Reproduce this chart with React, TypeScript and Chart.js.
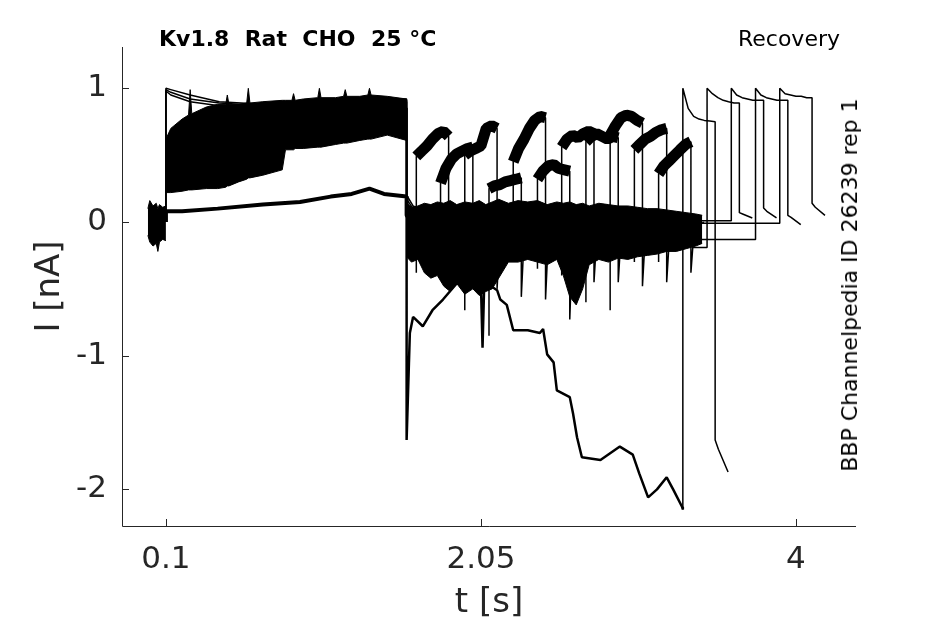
import { useEffect, useRef } from "react";
import Chart from "chart.js/auto";

const FONT = "'DejaVu Sans', sans-serif";
const AXIS = "#262626";

const xTicks = [0.1, 2.05, 4];
const yTicks = [1, 0, -1, -2];

// holding noise before the first pulse
const preT = [-0.012, 0.0, 0.02, 0.04, 0.05, 0.06, 0.08, 0.1];
const preHi = [0.1, 0.16, 0.12, 0.14, 0.1, 0.13, 0.11, 0.12];
const preLo = [-0.1, -0.15, -0.18, -0.16, -0.22, -0.15, -0.13, -0.14];

// dense envelope of the noisy sweeps during the first pulse
const p1T = [0.1, 0.13, 0.2, 0.24, 0.25, 0.26, 0.35, 0.42, 0.47, 0.48, 0.49, 0.55, 0.6, 0.61, 0.62, 0.7, 0.82, 0.84, 0.88, 0.89, 0.9, 0.95, 1.04, 1.05, 1.06, 1.15, 1.2, 1.21, 1.22, 1.3, 1.35, 1.36, 1.37, 1.47, 1.59];
const p1Hi = [0.62, 0.7, 0.77, 0.8, 0.99, 0.81, 0.86, 0.88, 0.88, 0.95, 0.88, 0.88, 0.89, 1.0, 0.89, 0.9, 0.91, 0.91, 0.91, 0.96, 0.91, 0.92, 0.93, 1.0, 0.93, 0.93, 0.94, 0.99, 0.94, 0.94, 0.95, 1.0, 0.95, 0.94, 0.92];
const p1Lo = [0.22, 0.22, 0.23, 0.24, 0.24, 0.24, 0.25, 0.25, 0.26, 0.27, 0.27, 0.3, 0.32, 0.33, 0.33, 0.35, 0.39, 0.54, 0.54, 0.54, 0.55, 0.55, 0.56, 0.56, 0.56, 0.58, 0.59, 0.59, 0.59, 0.61, 0.62, 0.62, 0.62, 0.65, 0.61];

// dense envelope around zero during recovery
const recT = [1.59, 1.62, 1.66, 1.7, 1.74, 1.78, 1.82, 1.86, 1.9, 1.95, 2.0, 2.04, 2.08, 2.12, 2.16, 2.22, 2.28, 2.34, 2.4, 2.46, 2.52, 2.56, 2.6, 2.64, 2.68, 2.72, 2.78, 2.84, 2.9, 2.96, 3.02, 3.08, 3.14, 3.2, 3.26, 3.32, 3.38, 3.42];
const recHi = [0.14, 0.11, 0.12, 0.14, 0.13, 0.15, 0.14, 0.16, 0.13, 0.15, 0.14, 0.16, 0.13, 0.15, 0.17, 0.14, 0.16, 0.15, 0.16, 0.13, 0.15, 0.14, 0.15, 0.13, 0.14, 0.12, 0.14, 0.13, 0.12, 0.12, 0.11, 0.1, 0.1, 0.09, 0.08, 0.07, 0.06, 0.05];
const recLo = [-0.26, -0.3, -0.28, -0.38, -0.42, -0.4, -0.48, -0.52, -0.46, -0.54, -0.5, -0.55, -0.52, -0.5, -0.42, -0.3, -0.3, -0.28, -0.3, -0.32, -0.28, -0.4, -0.56, -0.62, -0.5, -0.32, -0.28, -0.3, -0.27, -0.28, -0.26, -0.25, -0.24, -0.22, -0.22, -0.2, -0.18, -0.16];

// clean sweeps in the first pulse
const cleanT = [0.1, 0.1, 0.13, 0.25, 0.43, 0.7, 1.0, 1.3, 1.59, 1.59, 1.63, 1.7, 1.8];
const clean1 = [0.0, 1.0, 0.99, 0.95, 0.9, 0.88, 0.9, 0.92, 0.92, 0.2, 0.12, 0.08, 0.05];
const clean2 = [0.0, 0.99, 0.97, 0.92, 0.89, 0.87, 0.89, 0.91, 0.91, 0.17, 0.1, 0.06, 0.04];
const clean3 = [0.0, 0.98, 0.95, 0.9, 0.87, 0.86, 0.88, 0.9, 0.9, 0.14, 0.08, 0.04, 0.02];

// small sweep in the first pulse
const lowT = [0.1, 0.1, 0.2, 0.42, 0.7, 0.93, 1.12, 1.25, 1.36, 1.45, 1.59, 1.59, 1.62];
const lowI = [0.0, 0.08, 0.08, 0.1, 0.13, 0.15, 0.19, 0.21, 0.25, 0.21, 0.19, 0.05, 0.0];

// leaky sweep drifting down during recovery
const driftT = [1.58, 1.59, 1.59, 1.61, 1.63, 1.69, 1.75, 1.815, 1.9, 2.0, 2.05, 2.06, 2.07, 2.1, 2.15, 2.17, 2.21, 2.25, 2.34, 2.415, 2.435, 2.46, 2.5, 2.52, 2.6, 2.62, 2.645, 2.675, 2.79, 2.91, 2.99, 3.03, 3.085, 3.14, 3.2, 3.24, 3.295, 3.3];
const driftI = [0.85, 0.85, -1.63, -0.83, -0.71, -0.78, -0.66, -0.58, -0.46, -0.44, -0.46, -0.94, -0.48, -0.47, -0.51, -0.58, -0.62, -0.81, -0.81, -0.83, -0.8, -0.99, -1.05, -1.26, -1.31, -1.43, -1.61, -1.76, -1.78, -1.68, -1.74, -1.88, -2.06, -2.0, -1.91, -2.0, -2.13, -2.15];

// second (test) pulses
const p2Start = [1.65, 1.8, 1.95, 2.1, 2.25, 2.4, 2.55, 2.7, 2.85, 3.0, 3.15, 3.3, 3.45, 3.6, 3.75, 3.9];
const p2Offsets = [0, 0.033, 0.067, 0.1, 0.133, 0.167, 0.2];
const p2Levels = [
  [0.49, 0.53, 0.57, 0.62, 0.66, 0.68, 0.64],
  [0.29, 0.4, 0.47, 0.51, 0.53, 0.55, 0.56],
  [0.5, 0.53, 0.55, 0.57, 0.7, 0.72, 0.7],
  [0.25, 0.27, 0.28, 0.3, 0.31, 0.32, 0.33],
  [0.45, 0.55, 0.62, 0.7, 0.76, 0.79, 0.78],
  [0.32, 0.38, 0.42, 0.43, 0.4, 0.39, 0.38],
  [0.56, 0.62, 0.65, 0.63, 0.66, 0.68, 0.66],
  [0.6, 0.64, 0.66, 0.64, 0.62, 0.64, 0.63],
  [0.65, 0.72, 0.78, 0.8, 0.79, 0.76, 0.74],
  [0.54, 0.58, 0.62, 0.64, 0.67, 0.69, 0.7],
  [0.36, 0.42, 0.46, 0.5, 0.54, 0.58, 0.6],
  [1.0, 0.85, 0.79, 0.77, 0.76, 0.755, 0.75],
  [1.0, 0.96, 0.93, 0.91, 0.9, 0.89, 0.89],
  [1.0, 0.95, 0.93, 0.92, 0.91, 0.91, 0.91],
  [1.0, 0.95, 0.93, 0.92, 0.91, 0.91, 0.91],
  [1.0, 0.96, 0.95, 0.94, 0.94, 0.93, 0.93],
];
const p2Clean = [false, false, false, false, false, false, false, false, false, false, false, true, true, true, true, true];
const p2Base = [0, 0, 0, 0, 0, 0, 0, 0, 0, 0, 0, -2.15, -0.19, 0.01, -0.13, -0.01];
const p2OnSpike = [-0.38, -0.43, -0.66, -0.85, -0.3, -0.35, -0.4, -0.6, -0.66, -0.3, -0.3, -2.15, -0.19, 0.01, -0.13, -0.01];
const p2Drop = [-0.42, -0.35, -0.5, -0.56, -0.58, -0.73, -0.45, -0.45, -0.48, -0.45, -0.38, -1.63, 0.07, 0.105, 0.05, 0.14];
const p2TailMid = [-0.05, -0.05, -0.05, -0.05, -0.05, -0.05, -0.05, -0.05, -0.05, -0.05, -0.05, -1.7, 0.06, 0.08, 0.035, 0.11];
const p2TailEnd = [0, 0, 0, 0, 0, 0, 0, 0, 0, 0, 0, -1.87, 0.03, 0.03, -0.02, 0.05];
const baselineFrom = 3.36;

type Pt = { x: number; y: number };

function series(ts: number[], vs: number[]): Pt[] {
  return ts.map((t, i) => ({ x: t, y: vs[i] }));
}

function line(data: Pt[], width: number, extra: object = {}) {
  return {
    data,
    borderColor: "#000",
    backgroundColor: "#000",
    borderWidth: width,
    pointRadius: 0,
    fill: false,
    ...extra,
  };
}

function band(ts: number[], hi: number[], lo: number[]) {
  return [line(series(ts, hi), 1), line(series(ts, lo), 1, { fill: "-1" })];
}

function sweeps() {
  const out: object[] = [];
  p2Start.forEach((start, k) => {
    const end = start + p2Offsets[p2Offsets.length - 1];
    const pts: Pt[] = [];
    if (p2Clean[k] && k > 11) pts.push({ x: baselineFrom, y: p2Base[k] });
    pts.push({ x: start, y: p2Base[k] });
    if (!p2Clean[k]) pts.push({ x: start, y: p2OnSpike[k] });
    const body = p2Offsets.map((o, j) => ({ x: start + o, y: p2Levels[k][j] }));
    pts.push(...body);
    pts.push({ x: end, y: p2Drop[k] });
    pts.push({ x: end + 0.02, y: p2TailMid[k] });
    pts.push({ x: end + 0.08, y: p2TailEnd[k] });
    out.push(line(pts, 1.5));
    if (!p2Clean[k]) out.push(line(body, 11));
  });
  return out;
}

const inwardTicks = {
  id: "inwardTicks",
  afterDraw(chart: any) {
    const { ctx, chartArea: a, scales } = chart;
    ctx.save();
    ctx.strokeStyle = AXIS;
    ctx.lineWidth = 1;
    ctx.beginPath();
    ctx.moveTo(a.left + 0.5, a.top);
    ctx.lineTo(a.left + 0.5, a.bottom + 0.5);
    ctx.lineTo(a.right, a.bottom + 0.5);
    xTicks.forEach((v) => {
      const px = Math.round(scales.x.getPixelForValue(v)) + 0.5;
      ctx.moveTo(px, a.bottom);
      ctx.lineTo(px, a.bottom - 7);
    });
    yTicks.forEach((v) => {
      const py = Math.round(scales.y.getPixelForValue(v)) + 0.5;
      ctx.moveTo(a.left, py);
      ctx.lineTo(a.left + 7, py);
    });
    ctx.stroke();
    ctx.restore();
  },
};

export default function App() {
  const canvasRef = useRef<HTMLCanvasElement | null>(null);

  useEffect(() => {
    document.body.style.margin = "0";
    if (!canvasRef.current) return;

    const datasets = [
      ...band(preT, preHi, preLo),
      ...band(p1T, p1Hi, p1Lo),
      ...band(recT, recHi, recLo),
      line(series(cleanT, clean1), 1.5),
      line(series(cleanT, clean2), 1.5),
      line(series(cleanT, clean3), 1.5),
      line(series(lowT, lowI), 4),
      line(series(driftT, driftI), 2.5),
      ...sweeps(),
    ];

    const chart = new Chart(canvasRef.current, {
      type: "line",
      data: { datasets: datasets as any },
      options: {
        responsive: false,
        animation: false,
        events: [],
        layout: { padding: { left: 0, right: 89, top: 47, bottom: 0 } },
        elements: {
          point: { radius: 0 },
          line: { tension: 0, borderJoinStyle: "bevel", borderCapStyle: "butt" },
        },
        plugins: {
          legend: { display: false },
          tooltip: { enabled: false },
        },
        scales: {
          x: {
            type: "linear",
            min: -0.172,
            max: 4.372,
            afterFit: (s: any) => {
              s.height = 98;
            },
            afterBuildTicks: (s: any) => {
              s.ticks = xTicks.map((v) => ({ value: v }));
            },
            ticks: {
              callback: (v: any) => String(v),
              font: { family: FONT, size: 31 },
              color: AXIS,
              padding: 15,
              maxRotation: 0,
              autoSkip: false,
            },
            grid: { display: false, drawTicks: false },
            border: { display: false },
            title: {
              display: true,
              text: "t [s]",
              font: { family: FONT, size: 34 },
              color: AXIS,
              padding: { top: 0, bottom: 0 },
            },
          },
          y: {
            type: "linear",
            min: -2.274,
            max: 1.309,
            afterFit: (s: any) => {
              s.width = 122;
            },
            afterBuildTicks: (s: any) => {
              s.ticks = yTicks.map((v) => ({ value: v }));
            },
            ticks: {
              callback: (v: any) => String(v),
              font: { family: FONT, size: 31 },
              color: AXIS,
              padding: 15,
              autoSkip: false,
            },
            grid: { display: false, drawTicks: false },
            border: { display: false },
            title: {
              display: true,
              text: "I [nA]",
              font: { family: FONT, size: 34 },
              color: AXIS,
              padding: { top: 30, bottom: 0 },
            },
          },
        },
      },
      plugins: [inwardTicks],
    });

    return () => chart.destroy();
  }, []);

  const note = {
    position: "absolute" as const,
    fontFamily: FONT,
    fontSize: 22,
    lineHeight: "22px",
    color: "#000",
    whiteSpace: "pre" as const,
  };

  return (
    <div style={{ position: "absolute", left: 0, top: 0, width: 945, height: 624, background: "#fff" }}>
      <canvas ref={canvasRef} width={945} height={624} style={{ display: "block" }} />
      <div style={{ ...note, left: 159, top: 28, fontWeight: "bold" }}>Kv1.8  Rat  CHO  25 °C</div>
      <div style={{ ...note, right: 105, top: 28 }}>Recovery</div>
      <div
        style={{
          ...note,
          left: 850,
          top: 285,
          transform: "translate(-50%, -50%) rotate(-90deg)",
        }}
      >
        BBP Channelpedia ID 26239 rep 1
      </div>
    </div>
  );
}
